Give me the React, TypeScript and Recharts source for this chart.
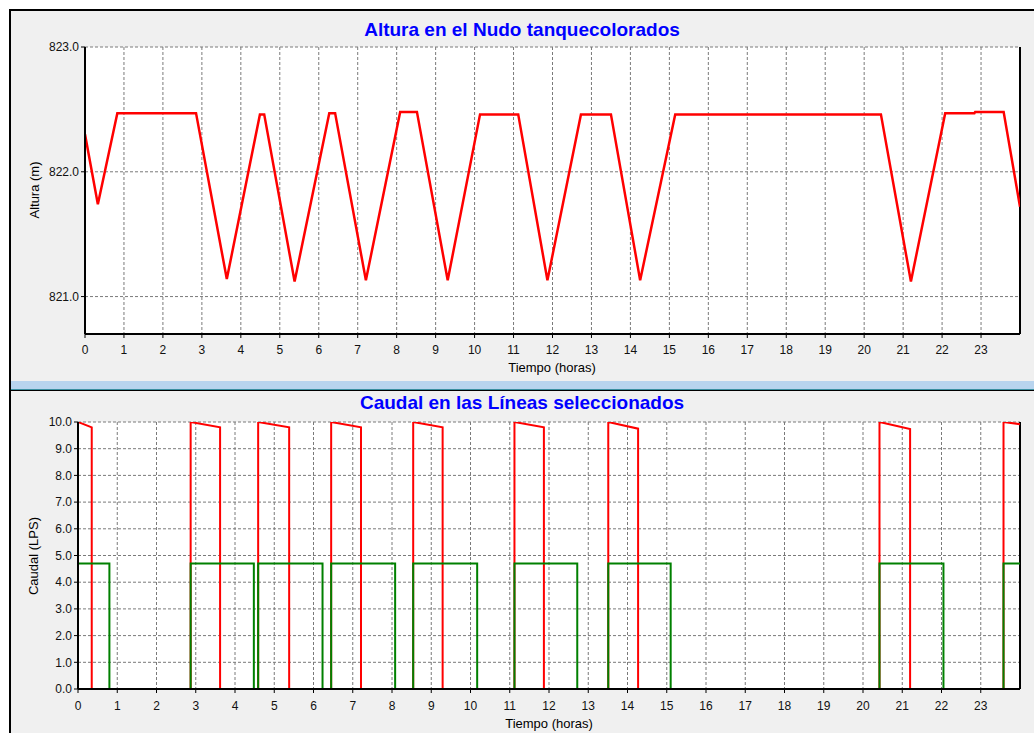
import { LineChart, Line, XAxis, YAxis, CartesianGrid, ReferenceLine } from "recharts"

const horasTicks = [0, 1, 2, 3, 4, 5, 6, 7, 8, 9, 10, 11, 12, 13, 14, 15, 16, 17, 18, 19, 20, 21, 22, 23]
const alturaTicks = [821, 822, 823]
const caudalTicks = [0, 1, 2, 3, 4, 5, 6, 7, 8, 9, 10]

// altura en el nudo [hora, m]
const alturaNudo: [number, number][] = [
  [0, 822.3],
  [0.33, 821.74],
  [0.83, 822.47],
  [2.85, 822.47],
  [3.64, 821.14],
  [4.49, 822.46],
  [4.6, 822.46],
  [5.38, 821.12],
  [6.27, 822.47],
  [6.42, 822.47],
  [7.21, 821.13],
  [8.09, 822.48],
  [8.52, 822.48],
  [9.31, 821.13],
  [10.14, 822.46],
  [11.12, 822.46],
  [11.87, 821.13],
  [12.73, 822.46],
  [13.5, 822.46],
  [14.25, 821.13],
  [15.15, 822.46],
  [20.43, 822.46],
  [21.2, 821.12],
  [22.08, 822.47],
  [22.83, 822.47],
  [22.85, 822.48],
  [23.58, 822.48],
  [24, 821.72],
]

// periodos con caudal: [inicio, fin, caudal inicial, caudal final]
const caudalRojo: [number, number, number, number][] = [
  [0, 0.35, 10.0, 9.8],
  [2.87, 3.62, 10.0, 9.8],
  [4.59, 5.38, 10.0, 9.8],
  [6.45, 7.21, 10.0, 9.8],
  [8.54, 9.29, 10.0, 9.8],
  [11.12, 11.87, 10.0, 9.8],
  [13.51, 14.27, 10.0, 9.75],
  [20.42, 21.2, 10.0, 9.74],
  [23.58, 24, 10.0, 9.92],
]

const caudalVerde: [number, number, number, number][] = [
  [0, 0.8, 4.7, 4.7],
  [2.87, 4.48, 4.7, 4.7],
  [4.59, 6.23, 4.7, 4.7],
  [6.45, 8.08, 4.7, 4.7],
  [8.54, 10.17, 4.7, 4.7],
  [11.12, 12.72, 4.7, 4.7],
  [13.51, 15.1, 4.7, 4.7],
  [20.42, 22.05, 4.7, 4.7],
  [23.58, 24, 4.7, 4.7],
]

function escalones(periodos: [number, number, number, number][]) {
  const pts: { t: number; q: number }[] = []
  periodos.forEach(([on, off, ini, fin]) => {
    if (on > 0) pts.push({ t: on, q: 0 })
    pts.push({ t: on, q: ini })
    pts.push({ t: off, q: fin })
    if (off < 24) pts.push({ t: off, q: 0 })
  })
  return pts
}

const alturaData = alturaNudo.map(([t, h]) => ({ t, h }))
const rojoData = escalones(caudalRojo)
const verdeData = escalones(caudalVerde)

const font = '"Liberation Sans", Arial, sans-serif'
const tickStyle = { fontSize: 12, fill: "#111", fontFamily: font }

const titleStyle: React.CSSProperties = {
  position: "absolute",
  left: 10,
  width: 1024,
  textAlign: "center",
  fontFamily: font,
  fontWeight: "bold",
  fontSize: 19,
  color: "#0000ff",
  lineHeight: "22px",
}

const axisTitle: React.CSSProperties = {
  position: "absolute",
  fontFamily: font,
  fontSize: 13,
  color: "#000",
  whiteSpace: "nowrap",
  transform: "translate(-50%, -50%)",
  lineHeight: "15px",
}

export default function App() {
  return (
    <div style={{ position: "absolute", left: 0, top: 0, width: 1034, height: 733, background: "#fff", overflow: "hidden" }}>
      {/* paneles */}
      <div style={{ position: "absolute", left: 9, top: 9, width: 1025, height: 724, background: "#f0f0f0", borderLeft: "2px solid #000", borderTop: "2px solid #000", boxSizing: "border-box" }} />
      <div style={{ position: "absolute", left: 11, top: 381, width: 1023, height: 8, background: "#b8d4ee" }} />
      <div style={{ position: "absolute", left: 11, top: 389, width: 1023, height: 1, background: "#3a8fa0" }} />
      <div style={{ position: "absolute", left: 11, top: 390, width: 1023, height: 1, background: "#000" }} />

      <div style={{ ...titleStyle, top: 19 }}>Altura en el Nudo tanquecolorados</div>
      <div style={{ ...titleStyle, top: 392 }}>Caudal en las Líneas seleccionados</div>

      <div style={{ position: "absolute", left: 0, top: 0 }}>
        <LineChart width={1034} height={380} margin={{ top: 47, right: 14, left: 25, bottom: 16 }}>
          <CartesianGrid stroke="#7a7a7a" strokeDasharray="3 2" fill="#ffffff" />
          <ReferenceLine x={24} stroke="#000" strokeWidth={2} />
          <Line data={alturaData} dataKey="h" type="linear" stroke="#ff0000" strokeWidth={2.5} dot={false} isAnimationActive={false} />
          <XAxis
            type="number"
            dataKey="t"
            domain={[0, 24]}
            ticks={horasTicks}
            interval={0}
            allowDataOverflow
            height={30}
            tickSize={4}
            tickMargin={7}
            tick={tickStyle}
            axisLine={{ stroke: "#000", strokeWidth: 2 }}
            tickLine={{ stroke: "#000" }}
          />
          <YAxis
            type="number"
            domain={[820.7, 823]}
            ticks={alturaTicks}
            allowDataOverflow
            width={60}
            tickSize={4}
            tickMargin={2}
            tick={tickStyle}
            tickFormatter={(v: number) => v.toFixed(1)}
            axisLine={{ stroke: "#000", strokeWidth: 2 }}
            tickLine={{ stroke: "#000" }}
          />
        </LineChart>
      </div>

      <div style={{ position: "absolute", left: 0, top: 380 }}>
        <LineChart width={1034} height={353} margin={{ top: 42, right: 14, left: 25, bottom: 14 }}>
          <CartesianGrid stroke="#7a7a7a" strokeDasharray="3 2" fill="#ffffff" />
          <ReferenceLine x={24} stroke="#000" strokeWidth={2} />
          <Line data={rojoData} dataKey="q" type="linear" stroke="#ff0000" strokeWidth={2} dot={false} isAnimationActive={false} />
          <Line data={verdeData} dataKey="q" type="linear" stroke="#008000" strokeWidth={2} dot={false} isAnimationActive={false} />
          <XAxis
            type="number"
            dataKey="t"
            domain={[0, 24]}
            ticks={horasTicks}
            interval={0}
            allowDataOverflow
            height={30}
            tickSize={4}
            tickMargin={8}
            tick={tickStyle}
            axisLine={{ stroke: "#000", strokeWidth: 2 }}
            tickLine={{ stroke: "#000" }}
          />
          <YAxis
            type="number"
            domain={[0, 10]}
            ticks={caudalTicks}
            allowDataOverflow
            width={53}
            tickSize={4}
            tickMargin={2}
            tick={tickStyle}
            tickFormatter={(v: number) => v.toFixed(1)}
            axisLine={{ stroke: "#000", strokeWidth: 2 }}
            tickLine={{ stroke: "#000" }}
          />
        </LineChart>
      </div>

      <div style={{ ...axisTitle, left: 552, top: 367 }}>Tiempo (horas)</div>
      <div style={{ ...axisTitle, left: 549, top: 723 }}>Tiempo (horas)</div>
      <div style={{ ...axisTitle, left: 34, top: 190, transform: "translate(-50%, -50%) rotate(-90deg)" }}>Altura (m)</div>
      <div style={{ ...axisTitle, left: 33, top: 556, transform: "translate(-50%, -50%) rotate(-90deg)" }}>Caudal (LPS)</div>
    </div>
  )
}
